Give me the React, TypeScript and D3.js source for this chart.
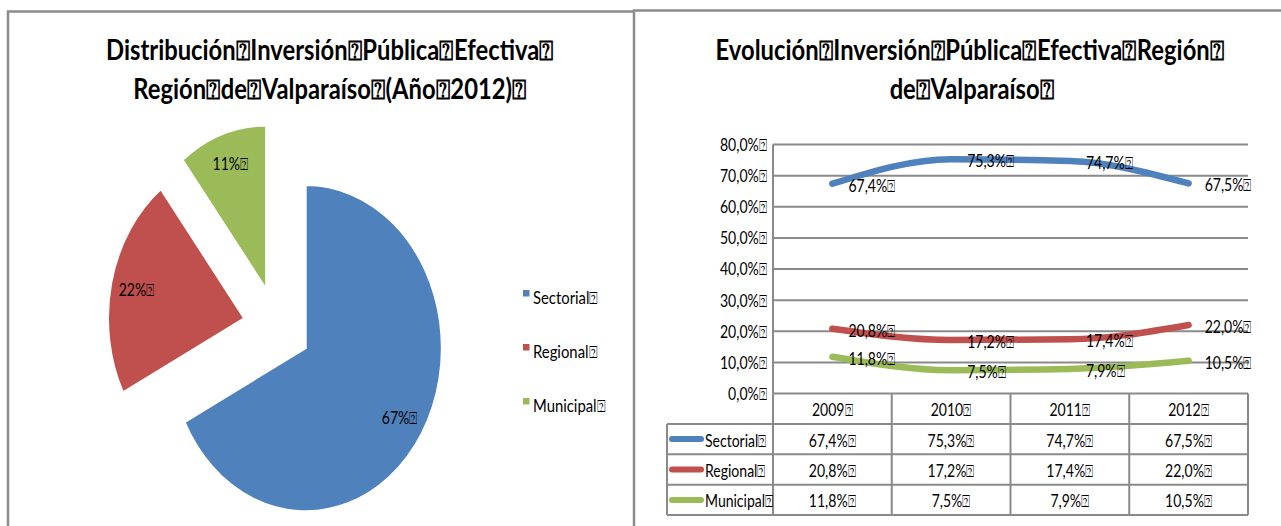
import React from "react";
import * as d3 from "d3";

const TOFU = "\u2370";

// Pie (2012 distribution)
const pieNames = ["Sectorial", "Regional", "Municipal"];
const pieValues = [67.5, 22.0, 10.5];
const pieLabels = ["67%", "22%", "11%"];

// Line chart (evolution)
const categories = ["2009", "2010", "2011", "2012"];
const seriesNames = ["Sectorial", "Regional", "Municipal"];
const sectorial = [67.4, 75.3, 74.7, 67.5];
const regional = [20.8, 17.2, 17.4, 22.0];
const municipal = [11.8, 7.5, 7.9, 10.5];
const yTicks = [0, 10, 20, 30, 40, 50, 60, 70, 80];

const colors = ["#4F81BD", "#C0504D", "#9BBB59"];
const FONT = "Lato, 'Open Sans', 'DejaVu Sans', sans-serif";
const SX = 0.85;

const fmt = (v: number) => v.toFixed(1).replace(".", ",") + "%" + TOFU;

function T(props: any) {
  const { x, y, size = 16.5, weight = 400, anchor = "start", children, sx = SX, baseline } = props;
  return (
    <text
      transform={`translate(${x},${y}) scale(${sx},1)`}
      fontFamily={FONT}
      fontSize={size}
      fontWeight={weight}
      textAnchor={anchor}
      dominantBaseline={baseline}
      fill="#000"
    >
      {children}
    </text>
  );
}

export default function App() {
  const W = 1281, H = 526;
  const frame = "#8c8c8c";

  // ---------- Pie ----------
  const cx = 277, cy = 327, R = 163, pieSX = 0.834, explode = 40.5;
  const arcs = d3.pie<number>().sort(null).value((d) => d)(pieValues);
  const arcGen = d3.arc<any>().innerRadius(0).outerRadius(R);

  // ---------- Line chart ----------
  const x = d3.scaleBand().domain(categories).range([773, 1248]);
  const y = d3.scaleLinear().domain([0, 80]).range([393.5, 144.5]);
  const series = [sectorial, regional, municipal];
  const line = d3
    .line<number>()
    .x((_, i) => (x(categories[i]) as number) + x.bandwidth() / 2)
    .y((d) => y(d))
    .curve(d3.curveMonotoneX);

  const tableTop = y(0);
  const rowH = 30.4;
  const tableLeft = 667;
  const gridCol = "#8a8a8a";
  const titleSize = 28, titleSX = 0.85;

  return (
    <svg width={W} height={H} style={{ position: "absolute", left: 0, top: 0, background: "#fff" }}>
      <rect x={0} y={0} width={W} height={H} fill="#fff" />
      {/* frames */}
      <path d={`M8,${H} V11.5 H634`} fill="none" stroke={frame} strokeWidth={2.5} />
      <path d={`M634,${H} V10.5 H${W}`} fill="none" stroke={frame} strokeWidth={2.5} />

      {/* Left title */}
      <T x={330} y={60} size={titleSize} sx={titleSX} weight={700} anchor="middle">
        {`Distribución${TOFU}Inversión${TOFU}Pública${TOFU}Efectiva${TOFU}`}
      </T>
      <T x={330} y={99} size={titleSize} sx={titleSX} weight={700} anchor="middle">
        {`Región${TOFU}de${TOFU}Valparaíso${TOFU}(Año${TOFU}2012)${TOFU}`}
      </T>

      {/* Pie */}
      {arcs.map((a, i) => {
        const m = (a.startAngle + a.endAngle) / 2;
        const dx = explode * Math.sin(m);
        const dy = -explode * Math.cos(m);
        return (
          <g key={i} transform={`translate(${cx},${cy}) scale(${pieSX},1)`}>
            <path
              d={arcGen(a) as string}
              transform={`translate(${dx},${dy})`}
              fill={colors[i]}
              stroke="#fff"
              strokeWidth={1.8}
              vectorEffect="non-scaling-stroke"
            />
          </g>
        );
      })}
      {arcs.map((a, i) => {
        const m = (a.startAngle + a.endAngle) / 2;
        const r = explode + 0.81 * R;
        const lx = cx + pieSX * r * Math.sin(m);
        const ly = cy - r * Math.cos(m);
        return (
          <T key={i} x={lx} y={ly} size={16.5} anchor="middle" baseline="central">
            {pieLabels[i] + TOFU}
          </T>
        );
      })}
      {/* Pie legend */}
      {pieNames.map((n, i) => (
        <g key={i}>
          <rect x={523} y={290 + i * 54} width={6.5} height={6.5} fill={colors[i]} />
          <T x={533} y={304 + i * 54} size={16.5} sx={0.9}>
            {n + TOFU}
          </T>
        </g>
      ))}

      {/* Right title */}
      <T x={970} y={60} size={titleSize} sx={titleSX} weight={700} anchor="middle">
        {`Evolución${TOFU}Inversión${TOFU}Pública${TOFU}Efectiva${TOFU}Región${TOFU}`}
      </T>
      <T x={972} y={99} size={titleSize} sx={titleSX} weight={700} anchor="middle">
        {`de${TOFU}Valparaíso${TOFU}`}
      </T>

      {/* Grid lines */}
      {yTicks.map((t) => (
        <g key={t}>
          {t > 0 && (
            <line x1={773} x2={1248} y1={y(t)} y2={y(t)} stroke={gridCol} strokeWidth={2} />
          )}
          <T x={767} y={y(t)} anchor="end" baseline="central">
            {fmt(t)}
          </T>
        </g>
      ))}
      <line x1={773} x2={773} y1={y(80)} y2={tableTop} stroke={gridCol} strokeWidth={2} />

      {/* Lines */}
      {series.map((s, i) => (
        <path
          key={i}
          d={line(s) as string}
          fill="none"
          stroke={colors[i]}
          strokeWidth={6.5}
          strokeLinecap="round"
          strokeLinejoin="round"
        />
      ))}
      {/* Data labels */}
      {series.map((s, i) =>
        s.map((v, j) => (
          <T
            key={`${i}-${j}`}
            x={(x(categories[j]) as number) + x.bandwidth() / 2 + 16}
            y={y(v) + 1.5}
            baseline="central"
          >
            {fmt(v)}
          </T>
        ))
      )}

      {/* Data table */}
      <g fill="none" stroke={gridCol} strokeWidth={2}>
        <line x1={773} x2={1248} y1={tableTop} y2={tableTop} />
        {[1, 2, 3, 4].map((r) => (
          <line key={r} x1={tableLeft} x2={1248} y1={tableTop + r * rowH} y2={tableTop + r * rowH} />
        ))}
        <line x1={tableLeft} x2={tableLeft} y1={tableTop + rowH} y2={tableTop + 4 * rowH} />
        {categories.map((c) => (
          <line key={c} x1={x(c) as number} x2={x(c) as number} y1={tableTop} y2={tableTop + 4 * rowH} />
        ))}
        <line x1={1248} x2={1248} y1={tableTop} y2={tableTop + 4 * rowH} />
      </g>
      {categories.map((c) => (
        <T key={c} x={(x(c) as number) + x.bandwidth() / 2} y={tableTop + rowH / 2 + 1} anchor="middle" baseline="central">
          {c + TOFU}
        </T>
      ))}
      {series.map((s, i) => {
        const yc = tableTop + rowH * (i + 1) + rowH / 2 + 1;
        return (
          <g key={i}>
            <line x1={672} x2={701} y1={yc - 1} y2={yc - 1} stroke={colors[i]} strokeWidth={6} strokeLinecap="round" />
            <T x={705} y={yc} baseline="central">
              {seriesNames[i] + TOFU}
            </T>
            {s.map((v, j) => (
              <T key={j} x={(x(categories[j]) as number) + x.bandwidth() / 2} y={yc} anchor="middle" baseline="central">
                {fmt(v)}
              </T>
            ))}
          </g>
        );
      })}
    </svg>
  );
}
